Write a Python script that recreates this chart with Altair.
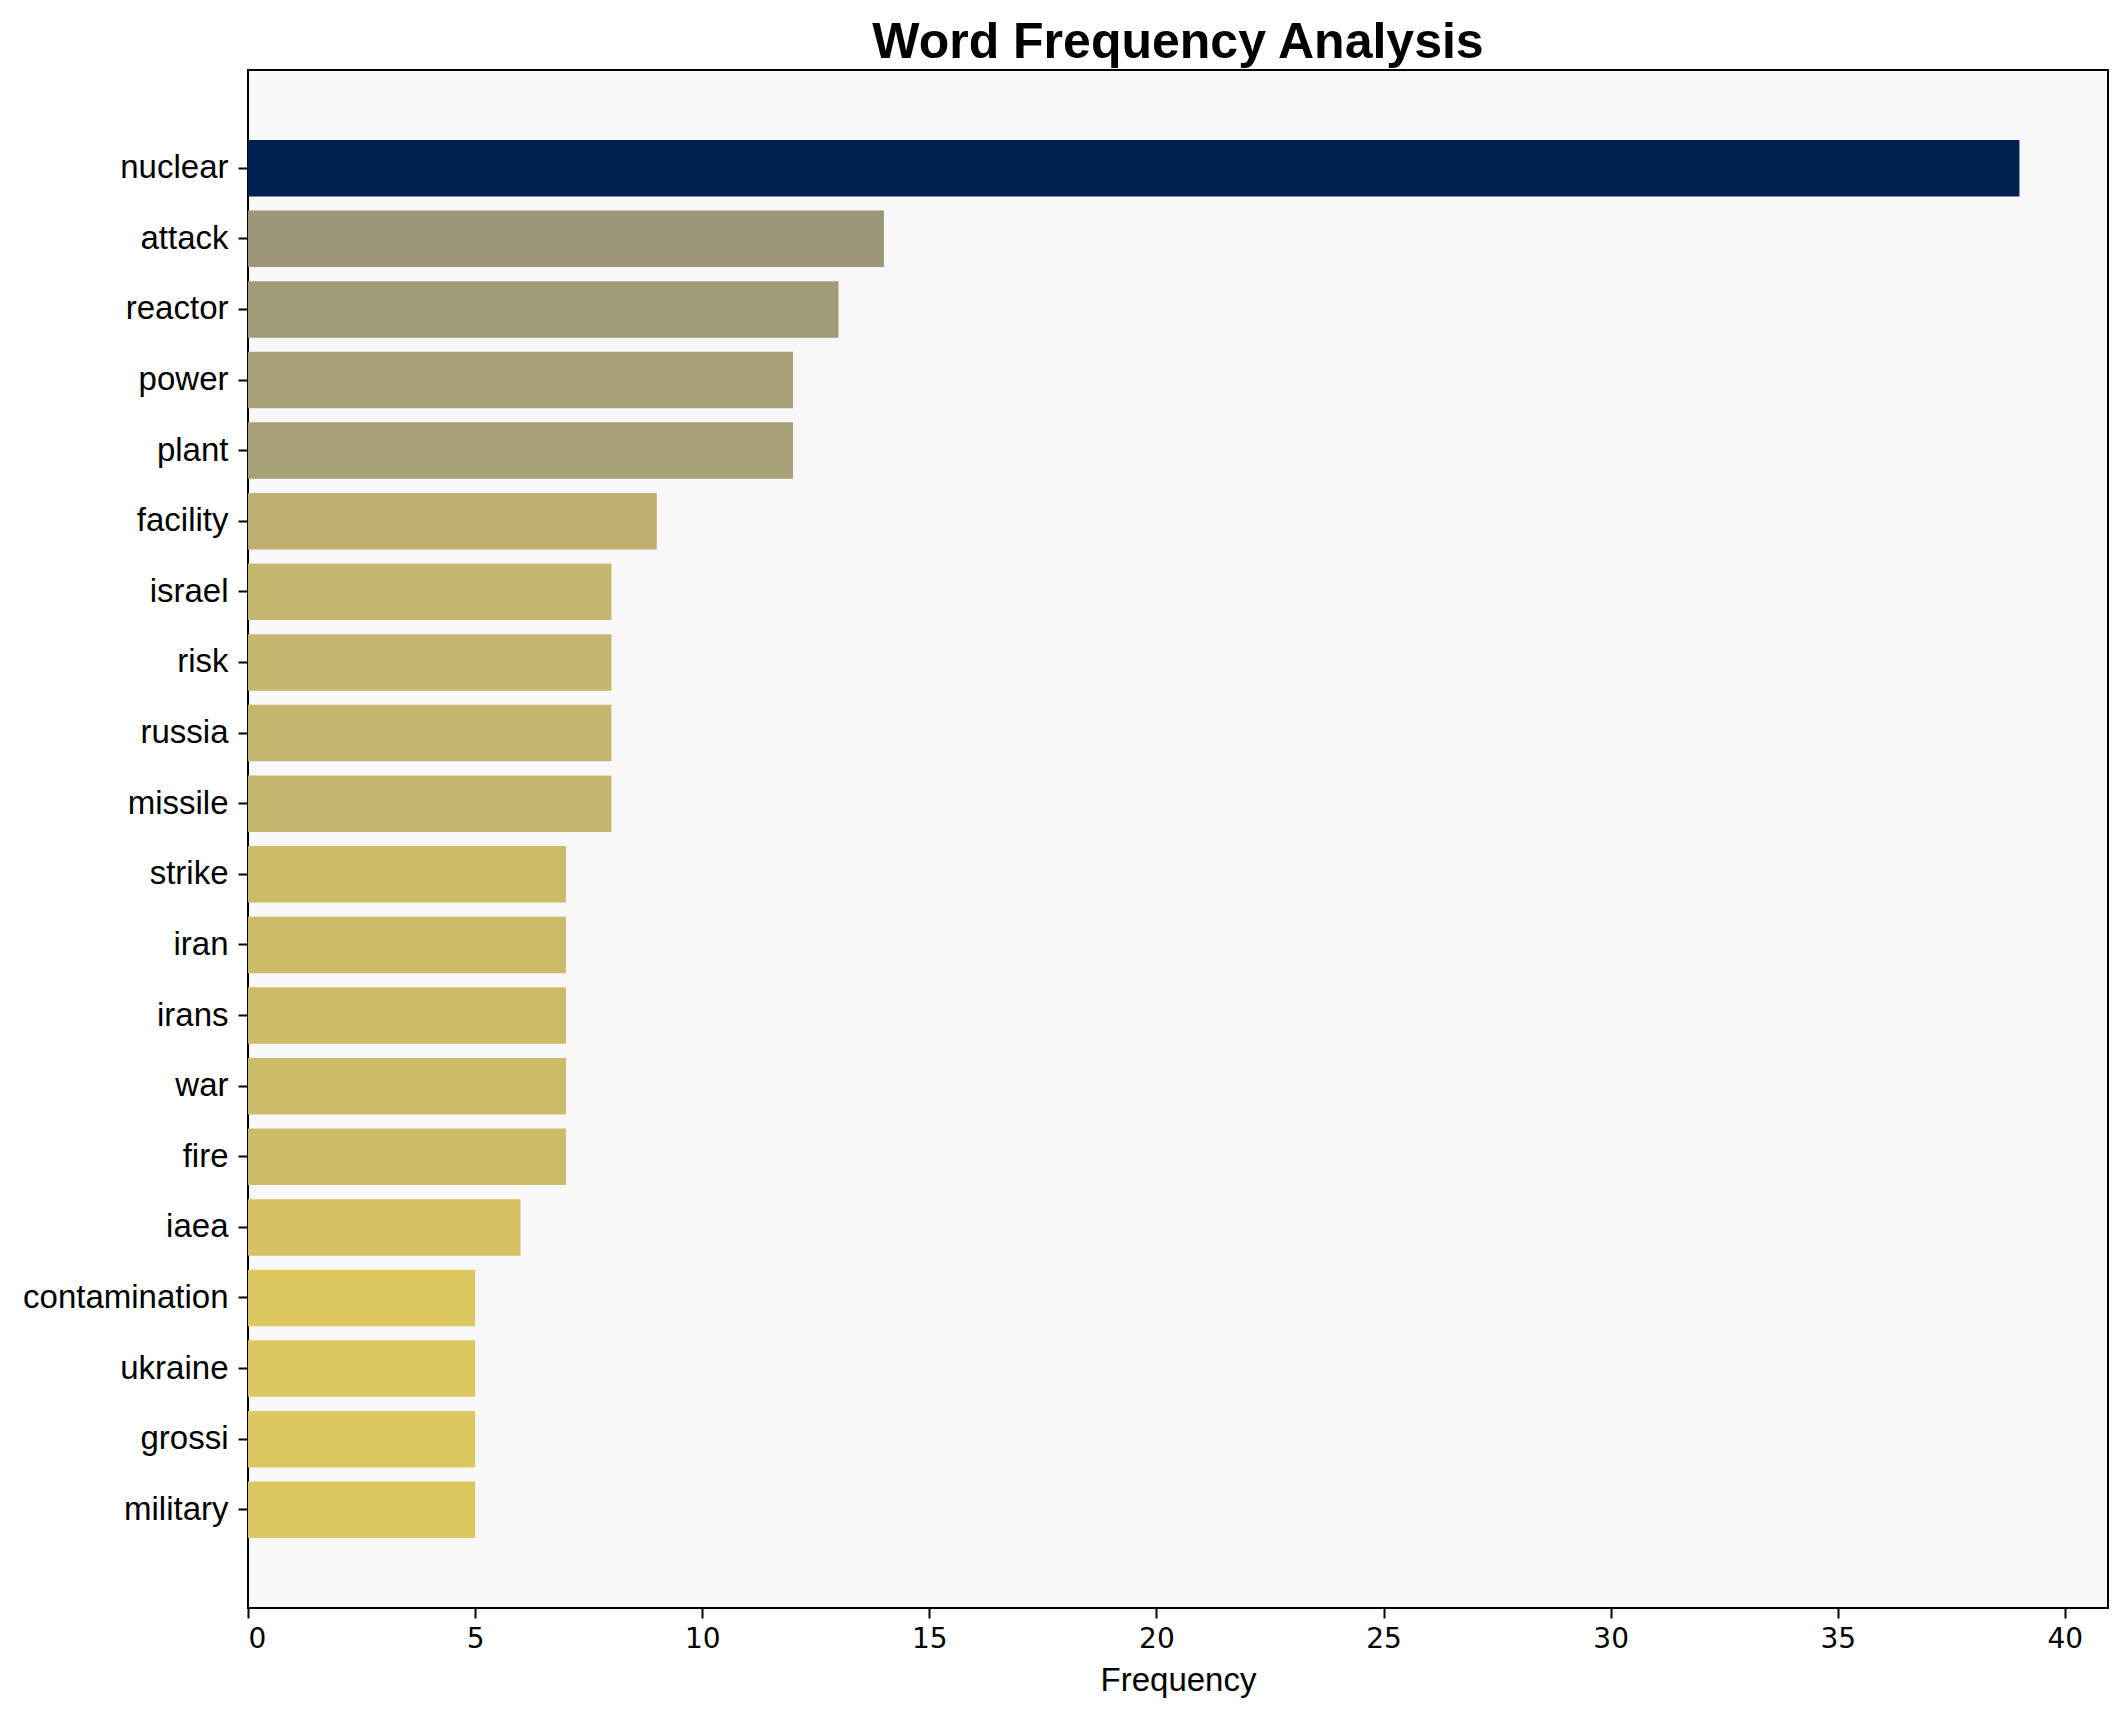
import altair as alt
import pandas as pd

words = ["nuclear", "attack", "reactor", "power", "plant", "facility", "israel",
         "risk", "russia", "missile", "strike", "iran", "irans", "war", "fire",
         "iaea", "contamination", "ukraine", "grossi", "military"]
freqs = [39, 14, 13, 12, 12, 9, 8, 8, 8, 8, 7, 7, 7, 7, 7, 6, 5, 5, 5, 5]
x_ticks = [0, 5, 10, 15, 20, 25, 30, 35, 40]

df = pd.DataFrame({"word": words, "freq": freqs})

chart = alt.Chart(df).mark_bar().encode(
    y=alt.Y("word:N", sort=words, title=None,
            scale=alt.Scale(paddingInner=0.2, paddingOuter=0.99),
            axis=alt.Axis(labelFont="Liberation Sans", labelFontSize=33,
                          labelColor="black", tickSize=10, tickWidth=2,
                          tickColor="black", labelPadding=10, domain=False,
                          labelLimit=0)),
    x=alt.X("freq:Q", title="Frequency",
            scale=alt.Scale(domain=[0, 40.95], nice=False),
            axis=alt.Axis(values=x_ticks, labelFont="DejaVu Sans", labelFontSize=28,
                          labelColor="black", tickSize=10, tickWidth=2,
                          tickColor="black", labelPadding=7, domain=False,
                          grid=False, titleFont="Liberation Sans",
                          titleFontSize=33, titleFontWeight="normal",
                          titleColor="black", titlePadding=11)),
    color=alt.Color("freq:Q", legend=None,
                    scale=alt.Scale(scheme="cividis", reverse=True, domain=[0, 39])),
).properties(
    width=1860,
    height=1538,
    title=alt.TitleParams(text="Word Frequency Analysis", font="Liberation Sans",
                          fontSize=50, fontWeight="bold", color="black",
                          anchor="middle", frame="group", offset=-48,
                          baseline="bottom"),
    padding={"left": 14, "top": 10, "right": 10, "bottom": 10},
).configure_view(
    fill="#f8f8f8", stroke="black", strokeWidth=2
).configure_axis(grid=False)

chart.save("out.html", embed_options={"renderer": "svg", "actions": False})
